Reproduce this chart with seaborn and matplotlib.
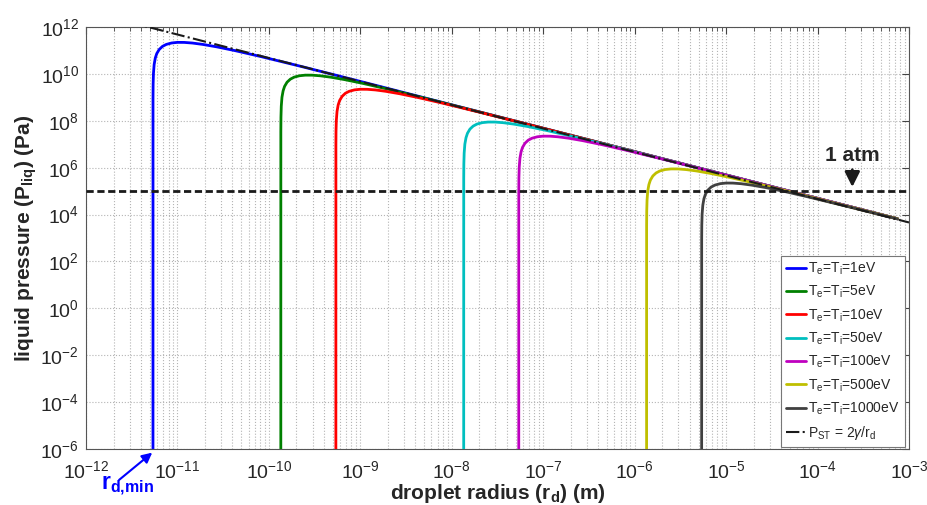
import matplotlib
matplotlib.use('Agg')
import matplotlib.pyplot as plt
import seaborn as sns
from matplotlib.ticker import LogLocator, NullLocator, NullFormatter, FixedLocator, LogFormatterSciNotation
from matplotlib.lines import Line2D

# ---------------- data ----------------
labels = [r'T$_\mathregular{e}$=T$_\mathregular{i}$=1eV',
          r'T$_\mathregular{e}$=T$_\mathregular{i}$=5eV',
          r'T$_\mathregular{e}$=T$_\mathregular{i}$=10eV',
          r'T$_\mathregular{e}$=T$_\mathregular{i}$=50eV',
          r'T$_\mathregular{e}$=T$_\mathregular{i}$=100eV',
          r'T$_\mathregular{e}$=T$_\mathregular{i}$=500eV',
          r'T$_\mathregular{e}$=T$_\mathregular{i}$=1000eV']
colors = ['#0000FF', '#008000', '#FF0000', '#00BFBF', '#BF00BF', '#BFBF00', '#404040']

r_1eV = [5.4e-12, 5.405e-12, 5.42e-12, 5.465e-12, 5.562e-12, 5.724e-12, 5.94e-12, 6.318e-12, 6.858e-12,
         7.56e-12, 8.64e-12, 9.99e-12, 1.188e-11, 1.458e-11, 1.89e-11, 2.7e-11, 4.32e-11, 8.1e-11,
         2.16e-10, 8.1e-10, 7.5e-4]
p_1eV = [1e-8, 8.87e8, 3.53e9, 1.04e10, 2.51e10, 4.75e10, 7.35e10, 1.10e11, 1.49e11,
         1.81e11, 2.08e11, 2.21e11, 2.20e11, 2.07e11, 1.81e11, 1.42e11, 9.72e10, 5.53e10,
         2.17e10, 5.89e9, 6.6e3]

r_5eV = [1.35e-10, 1.351e-10, 1.355e-10, 1.366e-10, 1.39e-10, 1.431e-10, 1.485e-10, 1.58e-10, 1.715e-10,
         1.89e-10, 2.16e-10, 2.5e-10, 2.97e-10, 3.645e-10, 4.725e-10, 6.75e-10, 1.08e-9, 2.025e-9,
         5.4e-9, 2.025e-8, 7.5e-4]
p_5eV = [1e-8, 3.55e7, 1.41e8, 4.17e8, 1.01e9, 1.90e9, 2.94e9, 4.42e9, 5.95e9,
         7.26e9, 8.33e9, 8.83e9, 8.82e9, 8.29e9, 7.26e9, 5.69e9, 3.89e9, 2.21e9,
         8.67e8, 2.35e8, 6.6e3]

r_10eV = [5.4e-10, 5.405e-10, 5.42e-10, 5.465e-10, 5.562e-10, 5.724e-10, 5.94e-10, 6.318e-10, 6.858e-10,
          7.56e-10, 8.64e-10, 9.99e-10, 1.188e-9, 1.458e-9, 1.89e-9, 2.7e-9, 4.32e-9, 8.1e-9,
          2.16e-8, 8.1e-8, 7.5e-4]
p_10eV = [1e-8, 8.87e6, 3.53e7, 1.04e8, 2.51e8, 4.75e8, 7.35e8, 1.10e9, 1.49e9,
          1.81e9, 2.08e9, 2.21e9, 2.20e9, 2.07e9, 1.81e9, 1.42e9, 9.72e8, 5.53e8,
          2.17e8, 5.89e7, 6.6e3]

r_50eV = [1.35e-8, 1.351e-8, 1.355e-8, 1.366e-8, 1.39e-8, 1.431e-8, 1.485e-8, 1.58e-8, 1.715e-8,
          1.89e-8, 2.16e-8, 2.5e-8, 2.97e-8, 3.645e-8, 4.725e-8, 6.75e-8, 1.08e-7, 2.025e-7,
          5.4e-7, 2.025e-6, 7.5e-4]
p_50eV = [1e-8, 3.55e5, 1.41e6, 4.17e6, 1.01e7, 1.90e7, 2.94e7, 4.42e7, 5.95e7,
          7.26e7, 8.33e7, 8.83e7, 8.82e7, 8.29e7, 7.26e7, 5.69e7, 3.89e7, 2.21e7,
          8.67e6, 2.35e6, 6.6e3]

r_100eV = [5.4e-8, 5.405e-8, 5.42e-8, 5.465e-8, 5.562e-8, 5.724e-8, 5.94e-8, 6.318e-8, 6.858e-8,
           7.56e-8, 8.64e-8, 9.99e-8, 1.188e-7, 1.458e-7, 1.89e-7, 2.7e-7, 4.32e-7, 8.1e-7,
           2.16e-6, 8.1e-6, 7.5e-4]
p_100eV = [1e-8, 8.87e4, 3.53e5, 1.04e6, 2.51e6, 4.75e6, 7.35e6, 1.10e7, 1.49e7,
           1.81e7, 2.08e7, 2.21e7, 2.20e7, 2.07e7, 1.81e7, 1.42e7, 9.72e6, 5.53e6,
           2.17e6, 5.89e5, 6.6e3]

r_500eV = [1.35e-6, 1.351e-6, 1.355e-6, 1.366e-6, 1.39e-6, 1.431e-6, 1.485e-6, 1.58e-6, 1.715e-6,
           1.89e-6, 2.16e-6, 2.5e-6, 2.97e-6, 3.645e-6, 4.725e-6, 6.75e-6, 1.08e-5, 2.025e-5,
           5.4e-5, 2.025e-4, 7.5e-4]
p_500eV = [1e-8, 3.55e3, 1.41e4, 4.17e4, 1.01e5, 1.90e5, 2.94e5, 4.42e5, 5.95e5,
           7.26e5, 8.33e5, 8.83e5, 8.82e5, 8.29e5, 7.26e5, 5.69e5, 3.89e5, 2.21e5,
           8.67e4, 2.35e4, 6.6e3]

r_1000eV = [5.4e-6, 5.405e-6, 5.42e-6, 5.465e-6, 5.562e-6, 5.724e-6, 5.94e-6, 6.318e-6, 6.858e-6,
            7.56e-6, 8.64e-6, 9.99e-6, 1.188e-5, 1.458e-5, 1.89e-5, 2.7e-5, 4.32e-5, 8.1e-5,
            2.16e-4, 7.5e-4]
p_1000eV = [1e-8, 8.87e2, 3.53e3, 1.04e4, 2.51e4, 4.75e4, 7.35e4, 1.10e5, 1.49e5,
            1.81e5, 2.08e5, 2.21e5, 2.20e5, 2.07e5, 1.81e5, 1.42e5, 9.72e4, 5.53e4,
            2.17e4, 6.5e3]

st_r = [1e-12, 1e-3]          # P_ST = 2*gamma/r_d
st_p = [4.8e12, 4.6e3]
atm_r = [1e-12, 1e-3]         # 1 atm reference
atm_p = [1.013e5, 1.013e5]

xticks = [1e-12, 1e-11, 1e-10, 1e-9, 1e-8, 1e-7, 1e-6, 1e-5, 1e-4, 1e-3]
yticks = [1e-6, 1e-4, 1e-2, 1e0, 1e2, 1e4, 1e6, 1e8, 1e10, 1e12]

# ---------------- style ----------------
sns.set_theme(style='white')
plt.rcParams['font.family'] = ['Liberation Sans', 'DejaVu Sans']
plt.rcParams['mathtext.fontset'] = 'custom'
plt.rcParams['mathtext.rm'] = 'Liberation Sans'
plt.rcParams['mathtext.it'] = 'Liberation Sans:italic'
plt.rcParams['mathtext.bf'] = 'Liberation Sans:bold'

fig = plt.figure(figsize=(9.27, 5.05), dpi=100)
ax = fig.add_axes([86/927, 1 - 449/505, 823/927, 422/505])
ax.set_xscale('log')
ax.set_yscale('log')

series = [(r_1eV, p_1eV), (r_5eV, p_5eV), (r_10eV, p_10eV), (r_50eV, p_50eV),
          (r_100eV, p_100eV), (r_500eV, p_500eV), (r_1000eV, p_1000eV)]
for (r, p), lab, c in zip(series, labels, colors):
    sns.lineplot(x=r, y=p, ax=ax, color=c, lw=2, sort=False, estimator=None, zorder=3)

sns.lineplot(x=st_r, y=st_p, ax=ax, color='k', lw=1.5, sort=False, estimator=None, zorder=4)
ax.lines[-1].set_linestyle('-.')
sns.lineplot(x=atm_r, y=atm_p, ax=ax, color='k', lw=2, sort=False, estimator=None, zorder=5)
ax.lines[-1].set_dashes((2.6, 1.3))

ax.set_xlim(1e-12, 1e-3)
ax.set_ylim(1e-6, 1e12)

ax.xaxis.set_major_locator(FixedLocator(xticks))
ax.xaxis.set_major_formatter(LogFormatterSciNotation())
ax.xaxis.set_minor_locator(LogLocator(base=10, subs=range(2, 10), numticks=20))
ax.xaxis.set_minor_formatter(NullFormatter())
ax.yaxis.set_major_locator(FixedLocator(yticks))
ax.yaxis.set_major_formatter(LogFormatterSciNotation())
ax.yaxis.set_minor_locator(NullLocator())

ax.grid(True, which='major', axis='both', ls=':', color='#b4b4b4', lw=0.8)
ax.grid(True, which='minor', axis='x', ls=':', color='#b4b4b4', lw=0.8)
ax.set_axisbelow(True)

ax.tick_params(which='both', direction='in', top=True, right=True, color='#444444')
ax.tick_params(which='major', length=5, width=0.8, labelsize=14)
ax.tick_params(axis='x', which='major', pad=8)
ax.tick_params(axis='y', which='major', pad=5)
ax.tick_params(which='minor', length=3, width=0.6)
for s in ax.spines.values():
    s.set_color('#555555')
    s.set_linewidth(0.8)

ax.set_xlabel(r'droplet radius (r$_\mathbf{d}$) (m)', fontsize=15, fontweight='bold', labelpad=0)
ax.set_ylabel(r'liquid pressure (P$_\mathbf{liq}$) (Pa)', fontsize=15, fontweight='bold', labelpad=1)

handles = [Line2D([], [], color=c, lw=2) for c in colors]
handles.append(Line2D([], [], color='k', lw=1.5, ls='-.'))
leg_labels = labels + [r'P$_\mathregular{ST}$ = 2$\gamma$/r$_\mathregular{d}$']
leg = ax.legend(handles, leg_labels, loc='lower right', bbox_to_anchor=(0.995, 0.005),
                borderaxespad=0, fontsize=10, frameon=True, fancybox=False,
                handlelength=1.4, handletextpad=0.2, labelspacing=0.5, borderpad=0.35)
leg.get_frame().set_edgecolor('#777777')
leg.get_frame().set_linewidth(0.8)
leg.get_frame().set_alpha(1)

ax.annotate('1 atm', xy=(2.4e-4, 1.5e5), xytext=(2.4e-4, 1.3e6), ha='center', va='bottom',
            fontsize=15, fontweight='bold',
            arrowprops=dict(arrowstyle='-|>,head_width=0.3,head_length=0.6', color='k', lw=2,
                            shrinkA=1, shrinkB=0))

ax.annotate('', xy=(5.3e-12, 7e-7), xytext=(2.3e-12, 4.8e-8), annotation_clip=False,
            arrowprops=dict(arrowstyle='-|>,head_width=0.25,head_length=0.5', color='#0000FF', lw=1.5,
                            shrinkA=0, shrinkB=0))
fig.text(101/927, (505 - 490)/505, r'$\mathbf{r_{d{,}min}}$', color='#0000FF', fontsize=16.5,
         ha='left', va='baseline')

fig.savefig('out.png', dpi=100)
